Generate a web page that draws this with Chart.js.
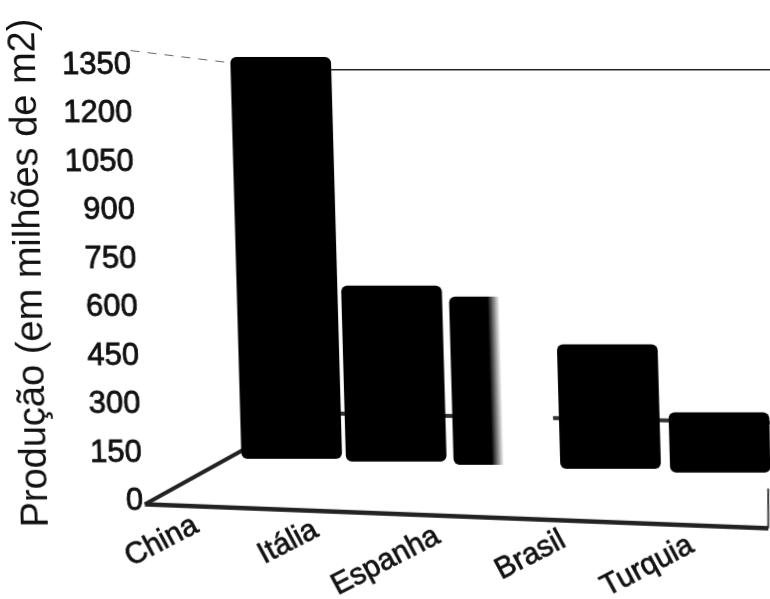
<!DOCTYPE html>
<html>
<head>
<meta charset="utf-8">
<title>Produção</title>
<script src="https://cdn.jsdelivr.net/npm/chart.js@4"></script>
<style>
  html, body { margin: 0; padding: 0; background: #fff; width: 770px; height: 599px; overflow: hidden; }
  /* the scan is slightly skewed, everything drifts right going down */
  #grafico { display: block; transform: skewX(1.6deg); transform-origin: 0 280px; }
</style>
</head>
<body>
<canvas id="grafico" width="790" height="599"></canvas>
<script>
const categorias = ["China", "Itália", "Espanha", "Brasil", "Turquia"];
const yTicks = [0, 150, 300, 450, 600, 750, 900, 1050, 1200, 1350];

// top and foot of each column as read against the axis
const topos = [1375, 667, 633, 485, 275];
const bases = [133, 124, 114, 102, 90];
// column centres, the x axis runs from 0 to 6
const barrasX = [1.42, 2.41, 3.43, 4.44, 5.48];

// where the names sit on the floor
const nomesX = [0.165, 1.363, 2.284, 3.656, 4.761];
const nomesY = [-124, -127, -185, -167, -201];

// edges of the 3D box
const pisoX = [0.016, 5.918];
const pisoY = [-9, -83];
const ladoX = [0.016, 0.963];
const ladoY = [-9, 160];
const fundoX = [0.969, 5.959];
const fundoY = [278, 244];
const topoX = [1.885, 6.06];
const topoY = [1337, 1337];
const tracoX = [0, 0.922];
const tracoY = [1396, 1359];
const cantoX = [5.918, 5.928];
const cantoY = [-83, 40];

const larguraBarra = 100;

const pontos = (xs, ys) => xs.map((x, i) => ({ x: x, y: ys[i] }));

function linha(xs, ys, cor, largura, extra) {
    return Object.assign({
        type: "line",
        data: pontos(xs, ys),
        borderColor: cor,
        borderWidth: largura,
        pointRadius: 0,
        fill: false,
        clip: false,
        order: 2
    }, extra || {});
}

// Espanha fades from black to white
function corBarra(ctx) {
    if (ctx.dataIndex !== 2 || !ctx.chart.chartArea) return "#000";
    const cx = ctx.chart.scales.x.getPixelForValue(barrasX[2]);
    const g = ctx.chart.ctx.createLinearGradient(cx - larguraBarra / 2, 0, cx + larguraBarra / 2, 0);
    g.addColorStop(0, "#000");
    g.addColorStop(0.38, "#000");
    g.addColorStop(0.5, "#fff");
    g.addColorStop(1, "#fff");
    return g;
}

const nomesPlugin = {
    id: "nomes",
    afterDatasetsDraw(chart) {
        const meta = chart.getDatasetMeta(chart.data.datasets.length - 1);
        const c = chart.ctx;
        meta.data.forEach((p, i) => {
            c.save();
            c.translate(p.x, p.y);
            c.rotate(-27 * Math.PI / 180);
            c.font = "30px 'Liberation Sans'";
            c.fillStyle = "#111";
            c.strokeStyle = "#111";
            c.lineWidth = 0.7;
            c.textAlign = "center";
            c.textBaseline = "middle";
            c.fillText(categorias[i], 0, 0);
            c.strokeText(categorias[i], 0, 0);
            c.restore();
        });
    }
};

new Chart(document.getElementById("grafico"), {
    data: {
        datasets: [
            {
                type: "bar",
                data: barrasX.map((x, i) => ({ x: x, y: [bases[i], topos[i]] })),
                backgroundColor: corBarra,
                borderRadius: 6,
                borderSkipped: false,
                barThickness: larguraBarra,
                order: 1
            },
            linha(fundoX, fundoY, "#333", 4),
            linha(fundoX, fundoY, "#999", 1),
            linha(topoX, topoY, "#222", 1.5),
            linha(tracoX, tracoY, "#666", 1, { borderDash: [9, 8] }),
            linha(ladoX, ladoY, "#222", 4),
            linha(ladoX, ladoY, "#888", 1, { borderDash: [3, 3] }),
            linha(pisoX, pisoY, "#222", 4.5),
            linha(pisoX, pisoY, "#aaa", 1.5),
            linha(cantoX, cantoY, "#444", 2),
            {
                type: "scatter",
                data: pontos(nomesX, nomesY),
                pointRadius: 0,
                order: 3
            }
        ]
    },
    options: {
        responsive: false,
        animation: false,
        layout: { padding: { top: 15, bottom: 0, left: 12, right: 20 } },
        plugins: { legend: { display: false }, tooltip: { enabled: false } },
        scales: {
            x: { type: "linear", display: false, min: 0, max: 6, offset: false },
            y: {
                min: -244,
                max: 1495,
                afterBuildTicks(scale) { scale.ticks = yTicks.map(v => ({ value: v })); },
                grid: { display: false, drawTicks: false },
                border: { display: false },
                ticks: {
                    padding: 0,
                    autoSkip: false,
                    color: "#111",
                    textStrokeColor: "#111",
                    textStrokeWidth: 0.8,
                    font: { family: "'Liberation Sans'", size: 31 },
                    callback: v => String(v)
                },
                title: {
                    display: true,
                    text: "Produção (em milhões de m2)",
                    align: "end",
                    color: "#111",
                    font: { family: "'Liberation Sans'", size: 38, lineHeight: 1 },
                    padding: { top: 0, bottom: 18 }
                }
            }
        }
    },
    plugins: [nomesPlugin]
});
</script>
</body>
</html>
